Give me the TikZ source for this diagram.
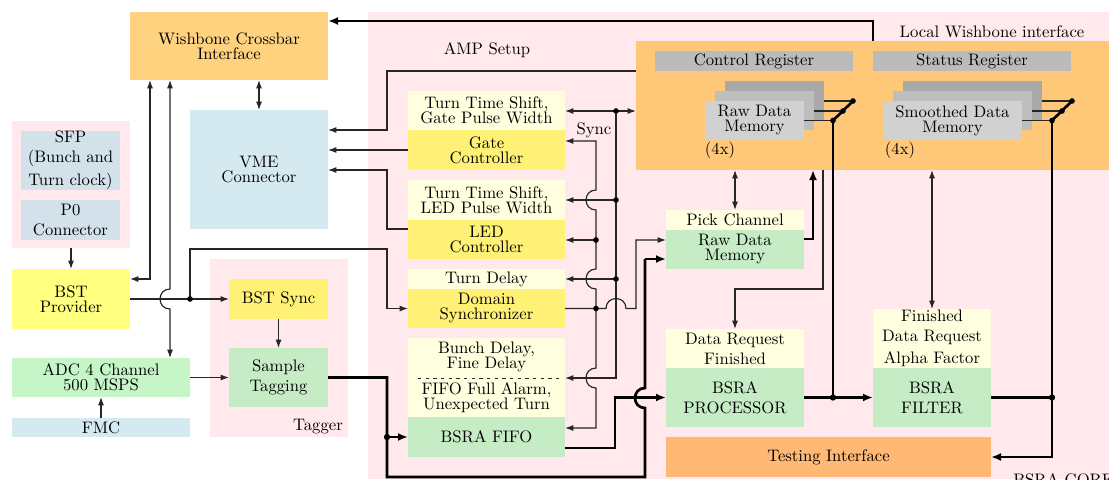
\documentclass[tikz,border=0pt]{standalone}
\usetikzlibrary{arrows.meta}
\definecolor{pinkbg}{HTML}{FFE9EC}
\definecolor{wborange}{HTML}{FFD280}
\definecolor{lwborange}{HTML}{FFC878}
\definecolor{testorange}{HTML}{FFB974}
\definecolor{lblue}{HTML}{D5E9F1}
\definecolor{gblue}{HTML}{D3E1EA}
\definecolor{yel}{HTML}{FFFF80}
\definecolor{yel2}{HTML}{FFF176}
\definecolor{lyel}{HTML}{FFFFE0}
\definecolor{grn}{HTML}{C6F6C8}
\definecolor{grn2}{HTML}{C6ECC6}
\definecolor{grey1}{HTML}{BBBBBB}
\definecolor{grey2}{HTML}{A9A9A9}
\definecolor{grey3}{HTML}{BEBEBE}
\definecolor{grey4}{HTML}{D1D1D1}
\tikzset{
  blk/.style={inner sep=0pt, outer sep=0pt, align=center, font=\fontsize{10pt}{9pt}\selectfont},
  sz/.style 2 args={minimum width=#1*0.6pt, minimum height=#2*0.6pt},
  ln/.style={line width=0.7pt, draw=black!85},
  thk/.style={line width=1.6pt, draw=black},
  arr/.style={-{Latex[length=5pt,width=3.6pt]}},
  darr/.style={{Latex[length=5pt,width=3.6pt]}-{Latex[length=5pt,width=3.6pt]}},
  tarr/.style={-{Latex[length=6pt,width=4.8pt]}},
  lbl/.style={inner sep=0pt, font=\fontsize{10pt}{9pt}\selectfont},
}
\begin{document}
\begin{tikzpicture}[x=0.6pt,y=-0.6pt]
\useasboundingbox (0,0) rectangle (1109,479);
% ---------- background groups
\fill[pinkbg] (368,12) rectangle (1109,479);
\node[blk,fill=pinkbg,sz={118}{127}] (grpL) at (71,184.5) {};
\node[blk,fill=pinkbg,sz={138}{178}] (grpT) at (279,348) {};
\node[blk,fill=lwborange,sz={473}{129}] (lwb) at (872.5,105.5) {};
% ---------- labels
\node[lbl] (lamp) at (487,50) {AMP Setup};
\node[lbl] (llwb) at (992,32) {Local Wishbone interface};
\node[lbl] (lsync) at (594,130) {Sync};
\node[lbl] (ltag) at (318,427) {Tagger};
\node[lbl,anchor=north west] (lcore) at (1013,473) {BSRA CORE};
\node[lbl] (l4a) at (720,150) {(4x)};
\node[lbl] (l4b) at (900,150) {(4x)};
% ---------- left blocks
\node[blk,fill=wborange,sz={198}{68}] (wb) at (229,46) {Wishbone Crossbar\\Interface};
\node[blk,fill=lblue,sz={138}{119}] (vme) at (259,169.5) {VME\\Connector};
\node[blk,fill=gblue,sz={99}{59}] (sfp) at (70.5,160.5) {SFP\\[3pt](Bunch and\\[3pt]Turn clock)};
\node[blk,fill=gblue,sz={99}{40}] (p0) at (70.5,220) {P0\\[3pt]Connector};
\node[blk,fill=yel,sz={118}{60}] (bstp) at (71,299) {BST\\Provider};
\node[blk,fill=grn,sz={178}{39}] (adc) at (101,377.5) {ADC 4 Channel\\500 MSPS};
\node[blk,fill=lblue,sz={178}{19}] (fmc) at (101,427.5) {FMC};
\node[blk,fill=yel2,sz={99}{40}] (bsts) at (278.5,299) {BST Sync};
\node[blk,fill=grn2,sz={99}{59}] (samp) at (278.5,377.5) {Sample\\[3pt]Tagging};
% ---------- AMP setup column
\node[blk,fill=lyel,sz={157}{39}] (tts1) at (486.5,110.5) {Turn Time Shift,\\Gate Pulse Width};
\node[blk,fill=yel2,sz={157}{40}] (gate) at (486.5,150) {Gate\\Controller};
\node[blk,fill=lyel,sz={157}{40}] (tts2) at (486.5,200) {Turn Time Shift,\\LED Pulse Width};
\node[blk,fill=yel2,sz={157}{39}] (led) at (486.5,239.5) {LED\\Controller};
\node[blk,fill=lyel,sz={157}{20}] (tdel) at (486.5,279) {Turn Delay};
\node[blk,fill=yel2,sz={157}{39}] (dsync) at (486.5,308.5) {Domain\\Synchronizer};
\node[blk,fill=lyel,sz={157}{79}] (bdel) at (486.5,377.5) {};
\node[lbl,align=center] (bdtop) at (486.5,357) {Bunch Delay,\\Fine Delay};
\node[lbl,align=center] (bdbot) at (486.5,398) {FIFO Full Alarm,\\Unexpected Turn};
\draw[black!85,line width=0.6pt,dash pattern=on 2pt off 2.6pt] (418,378) -- (561,378);
\node[blk,fill=grn2,sz={157}{40}] (fifo) at (486.5,437) {BSRA FIFO};
% ---------- local wishbone contents
\node[blk,fill=grey1,sz={198}{20}] (ctrl) at (754,61) {Control Register};
\node[blk,fill=grey1,sz={198}{20}] (stat) at (972,61) {Status Register};
\fill[grey2] (725,81) rectangle (824,120);
\fill[grey3] (715,91) rectangle (814,130);
\node[blk,fill=grey4,sz={99}{39}] (rawm) at (754.5,120.5) {Raw Data\\Memory};
\fill[grey2] (903,81) rectangle (1042,120);
\fill[grey3] (893,91) rectangle (1032,130);
\node[blk,fill=grey4,sz={139}{39}] (smm) at (952.5,120.5) {Smoothed Data\\Memory};
% ---------- BSRA blocks
\node[blk,fill=lyel,sz={138}{20}] (pick) at (735,220) {Pick Channel};
\node[blk,fill=grn2,sz={138}{39}] (rdm) at (735,249.5) {Raw Data\\Memory};
\node[blk,fill=lyel,sz={138}{39}] (dreq) at (735,348.5) {Data Request\\[3pt]Finished};
\node[blk,fill=grn2,sz={138}{59}] (proc) at (735,397.5) {BSRA\\[3pt]PROCESSOR};
\node[blk,fill=lyel,sz={118}{59}] (fin) at (932,338.5) {Finished\\[3pt]Data Request\\[3pt]Alpha Factor};
\node[blk,fill=grn2,sz={118}{59}] (filt) at (932,397.5) {BSRA\\[3pt]FILTER};
\node[blk,fill=testorange,sz={325}{40}] (test) at (828.5,457) {Testing Interface};
% ---------- multiplexers
\draw[ln] (824,101) -- (853,101);
\draw[ln] (814,111) -- (843,111);
\draw[ln] (rawm.east) -- (833,120.5);
\draw[thk] (833,120.5) -- (853,101);
\draw[ln] (1042,101) -- (1072,101);
\draw[ln] (1032,111) -- (1062,111);
\draw[ln] (smm.east) -- (1052,120.5);
\draw[thk] (1052,120.5) -- (1072,101);
\foreach \p in {(853,101),(843,111),(833,120.5),(1072,101),(1062,111),(1052,120.5)}
  \fill \p circle[radius=1.7pt];
% ---------- connectors, left
\draw[thk,tarr] (stat.west |- lwb.north) -- (873,21) -- (wb.east |- 0,21);
\draw[ln,darr] (wb.south -| vme.north) -- (vme.north);
\draw[ln,darr] (wb.south -| 150,0) -- (150,279) -- (bstp.east |- 0,279);
\draw[ln,darr] (wb.south -| 170,0) -- (170,289) .. controls (156.7,289) and (156.7,309) .. (170,309) -- (adc.north -| 170,0);
\draw[ln,arr] (bstp.east) -- (bsts.west);
\draw[ln,arr] (190,299) -- (190,249) -- (387,249) -- (387,308.5) -- (dsync.west);
\fill (190,299) circle[radius=1.7pt];
\draw[ln,arr] (bsts.south) -- (samp.north);
\draw[ln,arr] (adc.east) -- (samp.west);
\draw[ln,arr] (fmc.north) -- (adc.south);
\draw[ln,arr] (grpL.south -| bstp.north) -- (bstp.north);
% ---------- connectors to VME
\draw[ln,arr] (lwb.west |- 0,71) -- (387,71) -- (387,130) -- (vme.east |- 0,130);
\draw[ln,arr] (gate.west) -- (vme.east |- gate.west);
\draw[ln,arr] (led.west |- 0,229) -- (387,229) -- (387,170) -- (vme.east |- 0,170);
% ---------- sync buses
\draw[ln,darr] (tts1.east |- 0,111) -- (lwb.west |- 0,111);
\draw[ln,arr] (616,111) -- (616,378) -- (bdel.east |- 0,378);
\draw[ln,arr] (616,200) -- (tts2.east);
\draw[ln,arr] (616,279) -- (tdel.east);
\draw[ln,arr] (596,308.5) -- (596,289) .. controls (582.7,289) and (582.7,269) .. (596,269) -- (596,210) .. controls (582.7,210) and (582.7,190) .. (596,190) -- (596,141) -- (gate.east |- 0,141);
\draw[ln,arr] (596,308.5) -- (596,368) .. controls (582.7,368) and (582.7,388) .. (596,388) -- (596,428) -- (fifo.east |- 0,428);
\draw[ln,arr] (596,240) -- (led.east |- 0,240);
\draw[ln,arr] (dsync.east) -- (606,308.5) .. controls (606,295.2) and (626,295.2) .. (626,308.5) -- (636,308.5) -- (636,240) -- (rdm.west |- 0,240);
\foreach \p in {(616,111),(616,200),(616,279),(596,240),(596,308.5)}
  \fill \p circle[radius=1.7pt];
% ---------- data path
\draw[thk] (samp.east) -- (387,377.5) -- (387,477) -- (645,477) -- (645,408) .. controls (631.7,408) and (631.7,388) .. (645,388) -- (645,259);
\draw[thk,tarr] (645,259) -- (rdm.west |- 0,259);
\draw[thk,tarr] (387,437) -- (fifo.west);
\fill (387,437) circle[radius=1.9pt];
\draw[thk,tarr] (fifo.east |- 0,448) -- (615,448) -- (615,397.5) -- (proc.west);
\draw[thk,tarr] (proc.east) -- (filt.west);
\draw[thk,tarr] (filt.east) -- (1052,397.5) -- (1052,457) -- (test.east);
\draw[thk] (833,120.5) -- (833,397.5);
\draw[thk] (1052,120.5) -- (1052,397.5);
\fill (833,397.5) circle[radius=1.9pt];
\fill (1052,397.5) circle[radius=1.9pt];
\draw[thk,tarr] (rdm.east |- 0,239) -- (813,239) -- (lwb.south -| 813,0);
\draw[ln,arr] (lwb.south -| 823,0) -- (823,289) -- (735,289) -- (dreq.north);
\draw[ln,darr] (lwb.south -| pick.north) -- (pick.north);
\draw[ln,darr] (lwb.south -| fin.north) -- (fin.north);
\end{tikzpicture}
\end{document}
